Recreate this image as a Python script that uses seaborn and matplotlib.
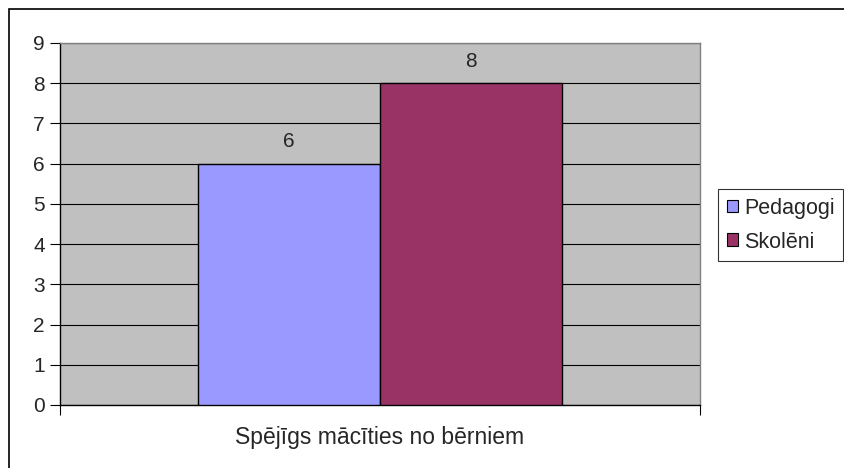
import pandas as pd
import matplotlib.pyplot as plt
import seaborn as sns
from matplotlib.patches import Rectangle

categories = ['Spējīgs mācīties no bērniem']
series = ['Pedagogi', 'Skolēni']
values = [6, 8]
colors = ['#9999FF', '#993366']
y_ticks = list(range(0, 10))

df = pd.DataFrame({
    'category': categories * len(series),
    'series': series,
    'value': values,
})

sns.set_theme(style='white')
plt.rcParams['font.family'] = ['Liberation Sans', 'DejaVu Sans']

fig = plt.figure(figsize=(8.44, 4.68), dpi=100)
W, H = 844, 468
ax = fig.add_axes([60 / W, 1 - 405 / H, 640 / W, 362 / H])

sns.barplot(data=df, x='category', y='value', hue='series', palette=colors,
            width=0.57, edgecolor='black', linewidth=1.0, saturation=1,
            ax=ax, zorder=3)

ax.set_facecolor('#C0C0C0')
ax.set_xlim(-0.5, 0.5)
ax.set_ylim(0, 9)
ax.set_yticks(y_ticks)
ax.yaxis.grid(True, color='black', linewidth=0.8, zorder=0)
ax.set_axisbelow(True)
ax.tick_params(axis='y', length=7, width=0.8, color='black', labelsize=15, pad=4, left=True)
ax.tick_params(axis='x', which='major', length=0, labelsize=16.5, pad=15)
ax.set_xticks([-0.5, 0.5], minor=True)
ax.tick_params(axis='x', which='minor', length=7, width=0.8, color='black', bottom=True)
ax.set_xlabel('')
ax.set_ylabel('')

for side in ['left', 'bottom']:
    ax.spines[side].set_color('black')
    ax.spines[side].set_linewidth(1.0)
for side in ['top', 'right']:
    ax.spines[side].set_color('#808080')
    ax.spines[side].set_linewidth(1.0)

for container in ax.containers:
    ax.bar_label(container, fmt='%g', padding=9, fontsize=15)

leg = ax.legend(loc='upper left', bbox_to_anchor=(718 / W, 1 - 189 / H),
                bbox_transform=fig.transFigure, frameon=True, fontsize=15.5,
                handlelength=0.55, handleheight=0.55, handletextpad=0.25,
                borderpad=0.4, labelspacing=0.6, fancybox=False, borderaxespad=0)
leg.get_frame().set_edgecolor('black')
leg.get_frame().set_linewidth(0.8)
for h in leg.legend_handles:
    h.set_edgecolor('black')
    h.set_linewidth(0.8)

fig.patches.append(Rectangle((9 / W, -0.1), 1.2, 1 - 9 / H + 0.1, transform=fig.transFigure,
                             fill=False, edgecolor='black', linewidth=1.2))

fig.savefig('out.png', dpi=100, facecolor='white')
